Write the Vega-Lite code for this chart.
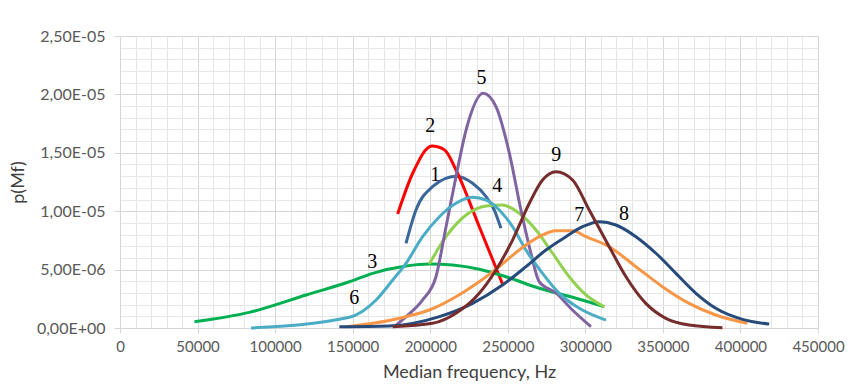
{
  "$schema": "https://vega.github.io/schema/vega-lite/v6.json",
  "width": 698,
  "height": 292,
  "autosize": "none",
  "padding": {"left": 120, "top": 36, "right": 36, "bottom": 57},
  "background": "white",
  "config": {"view": {"stroke": null}, "font": "Lato"},
  "resolve": {"axis": {"x": "independent", "y": "independent"}},
  "layer": [
    {
      "data": {"values": [
        {"s": "1", "f": 184400, "p": 7.25e-6}, {"s": "1", "f": 190800, "p": 10.1e-6}, {"s": "1", "f": 201500, "p": 12.1e-6}, {"s": "1", "f": 216600, "p": 13.0e-6}, {"s": "1", "f": 227300, "p": 12.39e-6}, {"s": "1", "f": 236000, "p": 11.24e-6}, {"s": "1", "f": 241300, "p": 10.1e-6}, {"s": "1", "f": 245600, "p": 8.54e-6},
        {"s": "2", "f": 179000, "p": 9.76e-6}, {"s": "2", "f": 188700, "p": 13.25e-6}, {"s": "2", "f": 201200, "p": 15.58e-6}, {"s": "2", "f": 209300, "p": 15.24e-6}, {"s": "2", "f": 216600, "p": 13.53e-6}, {"s": "2", "f": 231700, "p": 8.65e-6}, {"s": "2", "f": 246600, "p": 3.77e-6},
        {"s": "3", "f": 48000, "p": 0.54e-6}, {"s": "3", "f": 83400, "p": 1.34e-6}, {"s": "3", "f": 120000, "p": 2.83e-6}, {"s": "3", "f": 147900, "p": 3.96e-6}, {"s": "3", "f": 162900, "p": 4.68e-6}, {"s": "3", "f": 184400, "p": 5.31e-6}, {"s": "3", "f": 199400, "p": 5.48e-6}, {"s": "3", "f": 214400, "p": 5.39e-6}, {"s": "3", "f": 231600, "p": 5.03e-6}, {"s": "3", "f": 248800, "p": 4.39e-6}, {"s": "3", "f": 270300, "p": 3.4e-6}, {"s": "3", "f": 291800, "p": 2.63e-6}, {"s": "3", "f": 312200, "p": 1.82e-6},
        {"s": "4", "f": 199400, "p": 5.48e-6}, {"s": "4", "f": 210200, "p": 7.82e-6}, {"s": "4", "f": 223100, "p": 9.67e-6}, {"s": "4", "f": 236000, "p": 10.45e-6}, {"s": "4", "f": 246600, "p": 10.53e-6}, {"s": "4", "f": 257400, "p": 9.82e-6}, {"s": "4", "f": 268200, "p": 8.39e-6}, {"s": "4", "f": 278900, "p": 6.4e-6}, {"s": "4", "f": 289600, "p": 4.39e-6}, {"s": "4", "f": 300400, "p": 2.83e-6}, {"s": "4", "f": 312200, "p": 1.82e-6},
        {"s": "5", "f": 176900, "p": 0.11e-6}, {"s": "5", "f": 184400, "p": 0.97e-6}, {"s": "5", "f": 195100, "p": 2.4e-6}, {"s": "5", "f": 203700, "p": 4.39e-6}, {"s": "5", "f": 210200, "p": 8.67e-6}, {"s": "5", "f": 216600, "p": 12.95e-6}, {"s": "5", "f": 223100, "p": 16.95e-6}, {"s": "5", "f": 234200, "p": 20.1e-6}, {"s": "5", "f": 242400, "p": 18.95e-6}, {"s": "5", "f": 251000, "p": 14.98e-6}, {"s": "5", "f": 258500, "p": 10.1e-6}, {"s": "5", "f": 264900, "p": 6.42e-6}, {"s": "5", "f": 270300, "p": 3.96e-6}, {"s": "5", "f": 281000, "p": 3.0e-6}, {"s": "5", "f": 291700, "p": 1.54e-6}, {"s": "5", "f": 303600, "p": 0.11e-6},
        {"s": "6", "f": 84500, "p": 0.0}, {"s": "6", "f": 147900, "p": 0.92e-6}, {"s": "6", "f": 165100, "p": 2.4e-6}, {"s": "6", "f": 175800, "p": 4.11e-6}, {"s": "6", "f": 184400, "p": 5.54e-6}, {"s": "6", "f": 195100, "p": 7.82e-6}, {"s": "6", "f": 205900, "p": 9.53e-6}, {"s": "6", "f": 216600, "p": 10.68e-6}, {"s": "6", "f": 227300, "p": 11.19e-6}, {"s": "6", "f": 236000, "p": 10.96e-6}, {"s": "6", "f": 244500, "p": 10.1e-6}, {"s": "6", "f": 253100, "p": 8.67e-6}, {"s": "6", "f": 261700, "p": 6.68e-6}, {"s": "6", "f": 272400, "p": 4.68e-6}, {"s": "6", "f": 283200, "p": 2.97e-6}, {"s": "6", "f": 296100, "p": 1.69e-6}, {"s": "6", "f": 313300, "p": 0.68e-6},
        {"s": "7", "f": 145700, "p": 0.11e-6}, {"s": "7", "f": 162900, "p": 0.4e-6}, {"s": "7", "f": 184400, "p": 0.97e-6}, {"s": "7", "f": 199400, "p": 1.54e-6}, {"s": "7", "f": 216600, "p": 2.68e-6}, {"s": "7", "f": 231600, "p": 3.96e-6}, {"s": "7", "f": 244500, "p": 5.25e-6}, {"s": "7", "f": 257400, "p": 6.68e-6}, {"s": "7", "f": 270300, "p": 7.82e-6}, {"s": "7", "f": 281000, "p": 8.33e-6}, {"s": "7", "f": 291700, "p": 8.33e-6}, {"s": "7", "f": 300400, "p": 7.82e-6}, {"s": "7", "f": 315400, "p": 6.96e-6}, {"s": "7", "f": 332600, "p": 5.25e-6}, {"s": "7", "f": 349700, "p": 3.54e-6}, {"s": "7", "f": 366900, "p": 2.11e-6}, {"s": "7", "f": 384100, "p": 1.11e-6}, {"s": "7", "f": 404500, "p": 0.4e-6},
        {"s": "8", "f": 141400, "p": 0.11e-6}, {"s": "8", "f": 173600, "p": 0.17e-6}, {"s": "8", "f": 205900, "p": 0.97e-6}, {"s": "8", "f": 227300, "p": 2.11e-6}, {"s": "8", "f": 246600, "p": 3.68e-6}, {"s": "8", "f": 261700, "p": 5.25e-6}, {"s": "8", "f": 274600, "p": 6.68e-6}, {"s": "8", "f": 287500, "p": 7.82e-6}, {"s": "8", "f": 298200, "p": 8.67e-6}, {"s": "8", "f": 309000, "p": 9.1e-6}, {"s": "8", "f": 319700, "p": 8.82e-6}, {"s": "8", "f": 332600, "p": 7.82e-6}, {"s": "8", "f": 345500, "p": 6.4e-6}, {"s": "8", "f": 358400, "p": 4.68e-6}, {"s": "8", "f": 371300, "p": 2.97e-6}, {"s": "8", "f": 384100, "p": 1.69e-6}, {"s": "8", "f": 401300, "p": 0.74e-6}, {"s": "8", "f": 418500, "p": 0.34e-6},
        {"s": "9", "f": 175800, "p": 0.11e-6}, {"s": "9", "f": 201500, "p": 0.4e-6}, {"s": "9", "f": 216600, "p": 1.26e-6}, {"s": "9", "f": 231600, "p": 2.97e-6}, {"s": "9", "f": 242400, "p": 4.97e-6}, {"s": "9", "f": 253100, "p": 7.53e-6}, {"s": "9", "f": 263900, "p": 10.68e-6}, {"s": "9", "f": 272400, "p": 12.67e-6}, {"s": "9", "f": 281100, "p": 13.38e-6}, {"s": "9", "f": 291800, "p": 12.67e-6}, {"s": "9", "f": 302500, "p": 10.1e-6}, {"s": "9", "f": 315400, "p": 6.96e-6}, {"s": "9", "f": 326200, "p": 4.39e-6}, {"s": "9", "f": 339000, "p": 2.11e-6}, {"s": "9", "f": 351900, "p": 0.83e-6}, {"s": "9", "f": 366900, "p": 0.26e-6}, {"s": "9", "f": 388400, "p": 0.03e-6}
      ]},
      "mark": {"type": "line", "strokeWidth": 3, "interpolate": "monotone"},
      "encoding": {
        "x": {"field": "f", "type": "quantitative", "scale": {"domain": [0, 450000], "nice": false},
          "axis": {"orient": "bottom", "values": [10000,20000,30000,40000,60000,70000,80000,90000,110000,120000,130000,140000,160000,170000,180000,190000,210000,220000,230000,240000,260000,270000,280000,290000,310000,320000,330000,340000,360000,370000,380000,390000,410000,420000,430000,440000],
            "grid": true, "gridColor": "#E6E6E6", "gridWidth": 1, "labels": false, "ticks": false, "domain": false, "title": null}},
        "y": {"field": "p", "type": "quantitative", "scale": {"domain": [0, 2.5e-5], "nice": false},
          "axis": {"orient": "left", "values": [1e-6,2e-6,3e-6,4e-6,6e-6,7e-6,8e-6,9e-6,1.1e-5,1.2e-5,1.3e-5,1.4e-5,1.6e-5,1.7e-5,1.8e-5,1.9e-5,2.1e-5,2.2e-5,2.3e-5,2.4e-5],
            "grid": true, "gridColor": "#E6E6E6", "gridWidth": 1, "labels": false, "ticks": false, "domain": false, "title": null}},
        "color": {"field": "s", "type": "nominal", "legend": null,
          "scale": {"domain": ["1","2","3","4","5","6","7","8","9"],
            "range": ["#3A6699", "#FF0000", "#00B050", "#92D050", "#8064A2", "#4BACC6", "#F79646", "#264B7B", "#772C2C"]}}
      }
    },
    {
      "data": {"values": [
        {"label": "5", "x": 233000, "y": 21.4e-6},
        {"label": "2", "x": 200000, "y": 17.3e-6},
        {"label": "1", "x": 203300, "y": 13.1e-6},
        {"label": "4", "x": 243200, "y": 12.16e-6},
        {"label": "9", "x": 281200, "y": 14.8e-6},
        {"label": "7", "x": 296000, "y": 9.67e-6},
        {"label": "8", "x": 325000, "y": 9.76e-6},
        {"label": "3", "x": 162700, "y": 5.65e-6},
        {"label": "6", "x": 151100, "y": 2.57e-6}
      ]},
      "mark": {"type": "text", "font": "Liberation Serif", "fontSize": 20, "color": "black", "align": "center", "baseline": "middle"},
      "encoding": {
        "x": {"field": "x", "type": "quantitative", "scale": {"domain": [0, 450000], "nice": false},
          "axis": {"orient": "bottom", "values": [0,50000,100000,150000,200000,250000,300000,350000,400000,450000], "format": "d",
            "labelOverlap": false, "labelBound": false, "labelFlush": false,
            "grid": true, "gridColor": "#D6D6D6", "domainColor": "#D6D6D6", "tickColor": "#D6D6D6", "tickSize": 5,
            "labelFont": "Lato", "labelFontSize": 15, "labelColor": "#595959", "labelPadding": 6,
            "title": "Median frequency, Hz", "titleFont": "Lato", "titleFontSize": 18, "titleFontWeight": "normal", "titleColor": "#404040", "titlePadding": 9}},
        "y": {"field": "y", "type": "quantitative", "scale": {"domain": [0, 2.5e-5], "nice": false},
          "axis": {"orient": "left", "values": [0, 5e-6, 1e-5, 1.5e-5, 2e-5, 2.5e-5],
            "labelOverlap": false, "labelBound": false, "labelFlush": false,
            "labelExpr": "datum.value == 0 ? '0,00E+00' : (datum.value >= 9.99e-6 ? replace(format(datum.value*1e5, '.2f'), '.', ',') + 'E-05' : replace(format(datum.value*1e6, '.2f'), '.', ',') + 'E-06')",
            "grid": true, "gridColor": "#D6D6D6", "domainColor": "#D6D6D6", "tickColor": "#D6D6D6", "tickSize": 6,
            "labelFont": "Lato", "labelFontSize": 16, "labelColor": "#595959", "labelPadding": 9,
            "title": "p(Mf)", "titleFont": "Lato", "titleFontSize": 18, "titleFontWeight": "normal", "titleColor": "#404040", "titlePadding": 9}},
        "text": {"field": "label"}
      }
    }
  ]
}
